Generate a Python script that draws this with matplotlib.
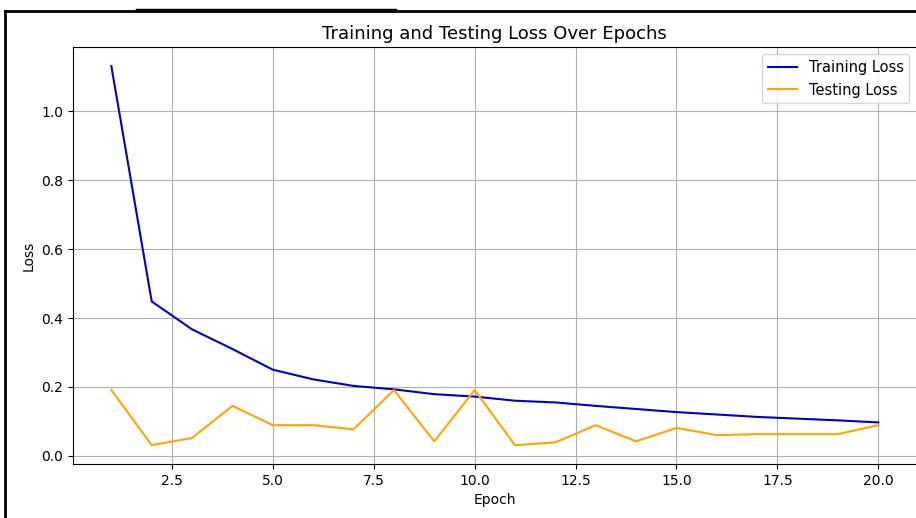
import matplotlib
matplotlib.use("Agg")
import matplotlib.pyplot as plt
from matplotlib.lines import Line2D

epochs = list(range(1, 21))
train_loss = [1.131, 0.448, 0.367, 0.310, 0.250, 0.222, 0.203, 0.193, 0.179, 0.172,
              0.160, 0.155, 0.145, 0.136, 0.127, 0.120, 0.113, 0.108, 0.103, 0.097]
test_loss = [0.191, 0.031, 0.052, 0.145, 0.089, 0.089, 0.077, 0.191, 0.042, 0.191,
             0.031, 0.039, 0.089, 0.042, 0.081, 0.060, 0.063, 0.063, 0.063, 0.089]

fig = plt.figure(figsize=(9.16, 5.18), dpi=100)
ax = fig.add_axes([0.0797, 0.104, 0.921, 0.805])

ax.plot(epochs, train_loss, color="mediumblue", label="Training Loss")
ax.plot(epochs, test_loss, color="orange", label="Testing Loss")
ax.set_title("Training and Testing Loss Over Epochs", fontsize=13)
ax.set_xlabel("Epoch")
ax.set_ylabel("Loss")
ax.legend(loc="upper right", fontsize=10.5)
ax.grid(True)

# screenshot frame
fig.add_artist(Line2D([0.005, 0.005], [0, 0.978], color="black", lw=2))
fig.add_artist(Line2D([0.005, 1], [0.978, 0.978], color="black", lw=2))
fig.add_artist(Line2D([0.148, 0.432], [0.983, 0.983], color="black", lw=1))

fig.savefig("out.png", dpi=100)
